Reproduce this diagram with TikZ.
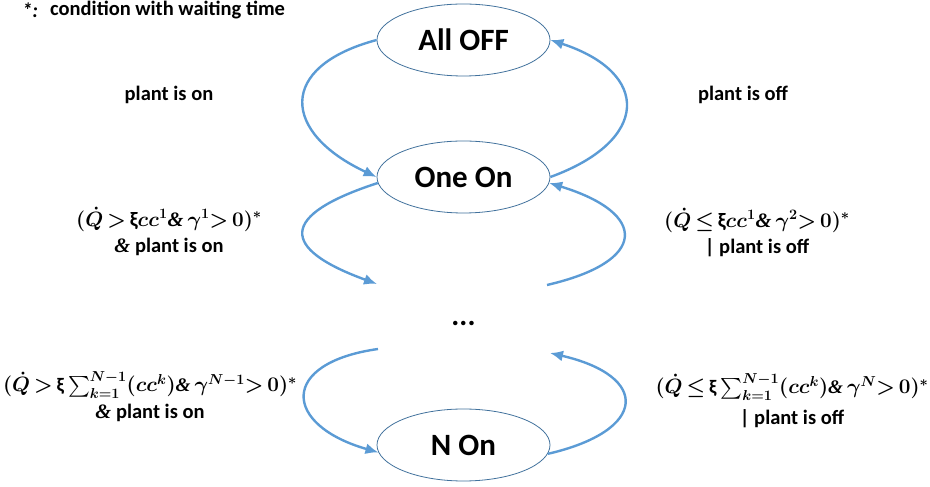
\documentclass[tikz,border=0pt]{standalone}
\usepackage{amsmath}
\usepackage{fontspec}
\setmainfont{Carlito}
\newfontfamily\ampfont{Liberation Serif}
\usetikzlibrary{arrows.meta,shapes.geometric}
\definecolor{flowblue}{HTML}{5B9BD5}
\definecolor{rimblue}{HTML}{41719C}
\newcommand{\andsym}{\mbox{\ampfont\bfseries\itshape\&}}
\newcommand{\xisym}{\mbox{\bfseries ξ}}
\newcommand{\tightmath}{\thickmuskip=3mu plus 2mu\relax\medmuskip=2mu\relax}
\newcommand{\sumline}[1]{{\fontsize{19.2}{23}\selectfont\tightmath$#1$}}

\begin{document}
\begin{tikzpicture}[x=1pt,y=1pt,
  state/.style={ellipse, draw=rimblue, line width=0.8pt,
    minimum width=173pt, minimum height=72pt, inner sep=0pt,
    font=\fontsize{31}{36}\selectfont\bfseries},
  flow/.style={draw=flowblue, line width=2.4pt,
    -{Latex[length=13pt,width=11pt]}},
  lbl/.style={font=\fontsize{20.5}{24}\selectfont\bfseries\boldmath\tightmath,
    align=center, inner sep=0pt},
]
\useasboundingbox (0,0) rectangle (930,487);

% states
\node[state] (off) at (463.5,447) {All OFF};
\node[state] (one) at (463.5,310) {One On};
\node[state] (non) at (463.5,42) {N On};
\node[font=\fontsize{30}{36}\selectfont\bfseries, inner sep=0pt] (dots) at (463.5,164) {...};

% free ends of the open transitions
\coordinate (c3) at (377,203);
\coordinate (c4) at (547,202);
\coordinate (c5) at (378,138);
\coordinate (c6) at (550,134);

% transitions
\draw[flow] (off.west) to[out=195,in=155,distance=104pt] (one.west);
\draw[flow] (one.east) to[out=20,in=-18,distance=106pt] (off.east);
\draw[flow] (one.184) to[out=198,in=160,distance=104pt] (c3);
\draw[flow] (c4) to[out=13,in=-17,distance=104pt] (one.-4);
\draw[flow] (c5) to[out=188,in=164,distance=100pt] (non.185);
\draw[flow] (non.-6) to[out=13,in=-13,distance=103pt] (c6);

% legend
\node[lbl, anchor=west] (star) at (22,477) {\itshape *:};
\node[lbl, anchor=west] (legend) at (50,477) {condition with waiting time};

% transition labels
\node[lbl] (l1) at (169,392) {plant is on};
\node[lbl] (l2) at (743,392) {plant is off};
\node[lbl] (l3) at (169,256)
  {$(\dot{Q} > \xisym cc^{1}\andsym\,\gamma^{1}\!>0)^{*}$\\[2pt] \andsym{} plant is on};
\node[lbl] (l4) at (757,255)
  {$(\dot{Q} \leq \xisym cc^{1}\andsym\,\gamma^{2}\!>0)^{*}$\\[2pt] | plant is off};
\node[lbl] (l5) at (150,90)
  {\sumline{(\dot{Q} > \xisym\textstyle\sum_{k=1}^{N-1}(cc^{k})\andsym\,\gamma^{N-1}\!>0)^{*}}\\[3pt] \andsym{} plant is on};
\node[lbl] (l6) at (792,86)
  {\sumline{(\dot{Q} \leq \xisym\textstyle\sum_{k=1}^{N-1}(cc^{k})\andsym\,\gamma^{N}\!>0)^{*}}\\[7pt] | plant is off};
\end{tikzpicture}
\end{document}
